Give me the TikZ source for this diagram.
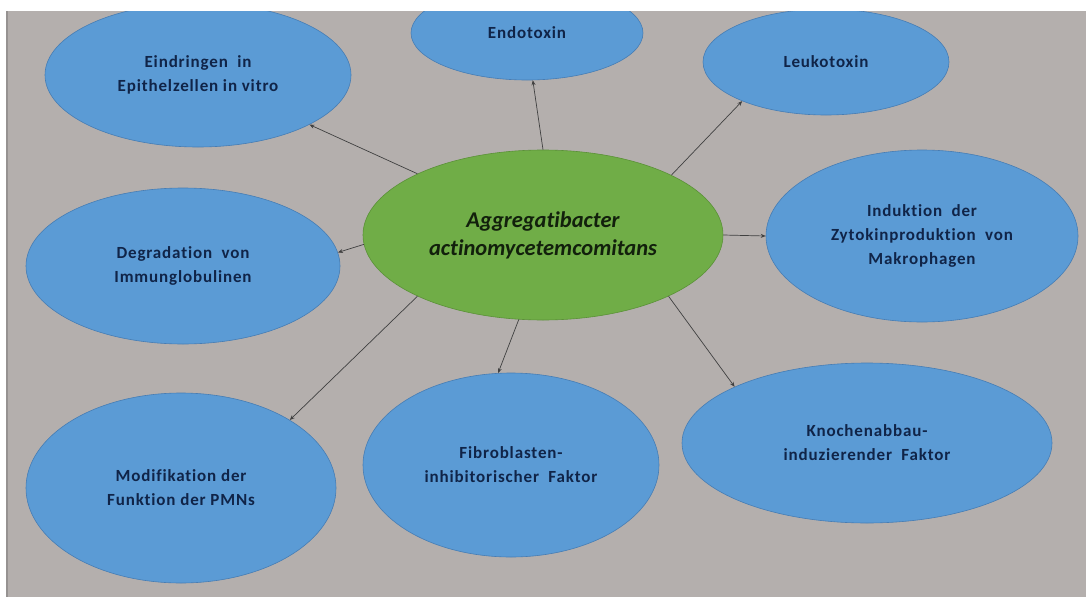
\documentclass[tikz,border=0pt]{standalone}
\usepackage{fontspec}
\setmainfont{Carlito}[Ligatures=CommonOff]
\usepackage{xcolor}
\usepackage{tikz}
\usetikzlibrary{arrows.meta,positioning,shapes.geometric}

\definecolor{bggray}{RGB}{180,175,173}
\definecolor{edgegray}{RGB}{150,146,145}
\definecolor{ovalblue}{RGB}{91,155,213}
\definecolor{ovalblueline}{RGB}{70,125,180}
\definecolor{ovalgreen}{RGB}{112,173,71}
\definecolor{ovalgreenline}{RGB}{90,145,55}
\definecolor{navytext}{RGB}{16,36,72}
\definecolor{darktext}{RGB}{18,32,12}

\begin{document}
\begin{tikzpicture}[
    x=1pt, y=-1pt,
    effect/.style={ellipse, draw=ovalblueline, line width=0.6pt, fill=ovalblue, align=center, inner sep=0pt, text=navytext, font=\fontsize{17}{24}\selectfont\bfseries\addfontfeature{LetterSpace=5}},
    hub/.style={ellipse, draw=ovalgreenline, line width=0.6pt, fill=ovalgreen, align=center, inner sep=0pt, text=darktext, font=\fontsize{22.5}{28}\selectfont\bfseries\itshape},
    arrow/.style={-{Stealth[length=5pt,width=4pt]}, draw=black!75, line width=0.7pt}
]
\useasboundingbox (0,0) rectangle (1086,597);
\fill[white] (0,0) rectangle (1086,597);
\fill[bggray] (7,11) rectangle (1086,597);
\draw[edgegray, line width=1.2pt] (7,11) -- (7,597);
\begin{scope}
\clip (7,11) rectangle (1086,597);
\node[hub, minimum width=360pt, minimum height=170pt] (bacterium) at (543,235) {Aggregatibacter\\actinomycetemcomitans};
\node[effect, minimum width=306pt, minimum height=144pt] (invasion) at (198,75) {Eindringen\ \ in\\Epithelzellen\ in\ vitro};
\node[effect, minimum width=232pt, minimum height=94pt] (endotoxin) at (527,33) {Endotoxin};
\node[effect, minimum width=246pt, minimum height=106pt] (leukotoxin) at (826,62) {Leukotoxin};
\node[effect, minimum width=312pt, minimum height=172pt] (cytokine) at (922,236) {Induktion\ \ der\\Zytokinproduktion\ \ von\\Makrophagen};
\node[effect, minimum width=314pt, minimum height=156pt] (degradation) at (183,266) {Degradation\ \ von\\Immunglobulinen};
\node[effect, minimum width=310pt, minimum height=190pt] (pmn) at (181,488) {Modifikation\ der\\Funktion der PMNs};
\node[effect, minimum width=296pt, minimum height=184pt] (fibro) at (511,465) {Fibroblasten-\\inhibitorischer\ \ Faktor};
\node[effect, minimum width=370pt, minimum height=160pt] (bone) at (867,443) {Knochenabbau-\\induzierender\ \ Faktor};
\end{scope}
\draw[arrow] (bacterium.154) -- (invasion.336);
\draw[arrow] (bacterium.90) -- (endotoxin.277);
\draw[arrow] (bacterium.25) -- (leukotoxin.205);
\draw[arrow] (bacterium.0) -- (cytokine.180);
\draw[arrow] (bacterium.183) -- (degradation.5);
\draw[arrow] (bacterium.206) -- (pmn.32);
\draw[arrow] (bacterium.254) -- (fibro.98);
\draw[arrow] (bacterium.334) -- (bone.157);
\end{tikzpicture}
\end{document}
